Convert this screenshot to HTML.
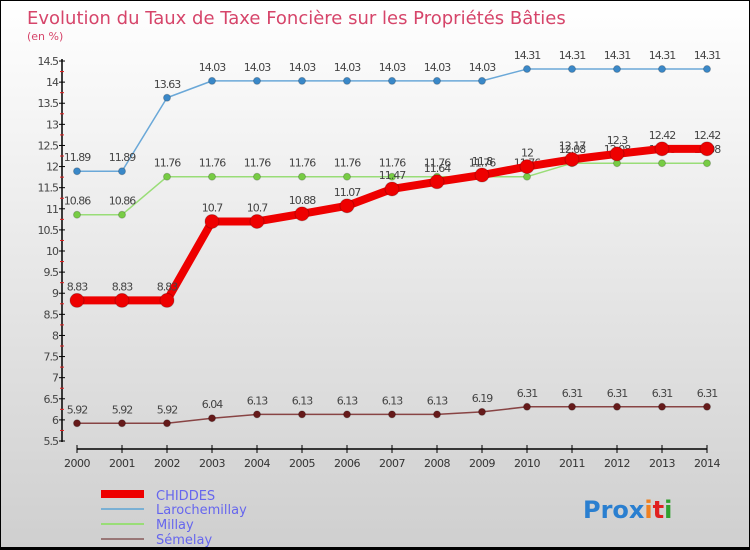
<!DOCTYPE html>
<html><head><meta charset="utf-8"><style>
body{margin:0}
#c{width:750px;height:550px;position:relative;background:linear-gradient(#ffffff,#cfcfcf);box-sizing:border-box;border:1px solid #000;border-bottom:3px solid #000;overflow:hidden;font-family:"DejaVu Sans","Liberation Sans",sans-serif}
svg text{font-family:"DejaVu Sans","Liberation Sans",sans-serif}
</style></head><body>
<div id="c">
<svg width="750" height="550" id="s">
<text x="26" y="23" font-size="18" fill="#d6456a">Evolution du Taux de Taxe Foncière sur les Propriétés Bâties</text>
<text x="26" y="39" font-size="11" fill="#d6456a">(en %)</text>
<g id="g"></g>
<g>
<rect x="100" y="489" width="43" height="8" fill="#ee0000"/>
<text x="155" y="499" font-size="13" fill="#6666ee">CHIDDES</text>
<rect x="100" y="507" width="43" height="2" fill="#7ab0d4"/>
<text x="155" y="513" font-size="13" fill="#6666ee">Larochemillay</text>
<rect x="100" y="522" width="43" height="2" fill="#99dd77"/>
<text x="155" y="528" font-size="13" fill="#6666ee">Millay</text>
<rect x="100" y="537" width="43" height="2" fill="#997777"/>
<text x="155" y="543" font-size="13" fill="#6666ee">Sémelay</text>
</g>
<text x="582" y="517" font-size="24" font-weight="bold"><tspan fill="#2a7fd0">Pro</tspan><tspan fill="#2a7fd0">x</tspan><tspan fill="#f08020">i</tspan><tspan fill="#e02020">t</tspan><tspan fill="#30a030">i</tspan></text>
</svg></div>
<script>
const years=[2000,2001,2002,2003,2004,2005,2006,2007,2008,2009,2010,2011,2012,2013,2014];
const chiddes=[8.83,8.83,8.83,10.7,10.7,10.88,11.07,11.47,11.64,11.8,12,12.17,12.3,12.42,12.42];
const larochemillay=[11.89,11.89,13.63,14.03,14.03,14.03,14.03,14.03,14.03,14.03,14.31,14.31,14.31,14.31,14.31];
const millay=[10.86,10.86,11.76,11.76,11.76,11.76,11.76,11.76,11.76,11.76,11.76,12.08,12.08,12.08,12.08];
const semelay=[5.92,5.92,5.92,6.04,6.13,6.13,6.13,6.13,6.13,6.19,6.31,6.31,6.31,6.31,6.31];
const yTicks=[5.5,6,6.5,7,7.5,8,8.5,9,9.5,10,10.5,11,11.5,12,12.5,13,13.5,14,14.5];
const NS="http://www.w3.org/2000/svg";
const g=document.getElementById('g');
const X=i=>76+i*45;
const Y=v=>440-(v-5.5)*42.22;
function el(t,a,p){const e=document.createElementNS(NS,t);for(const k in a)e.setAttribute(k,a[k]);(p||g).appendChild(e);return e;}
let e=el('line',{x1:61,y1:58,x2:61,y2:441,stroke:'#000','stroke-width':1.5});


e=el('line',{x1:76,y1:448,x2:706,y2:448,stroke:'#000','stroke-width':1.5});


yTicks.forEach((v,i)=>{
  el('line',{x1:58,y1:Y(v),x2:64,y2:Y(v),stroke:'#000'});
  if(i<yTicks.length-1) el('line',{x1:59,y1:Y(v+0.25),x2:63,y2:Y(v+0.25),stroke:'#e02020'});
  const t=el('text',{x:57,y:Y(v)+4,'font-size':11,fill:'#444','text-anchor':'end','letter-spacing':'-1'});
  t.textContent=String(v);
  
  
});
years.forEach((y,i)=>{
  el('line',{x1:X(i),y1:444,x2:X(i),y2:452,stroke:'#000'});
  const t=el('text',{x:X(i),y:466,'font-size':11,fill:'#333','text-anchor':'middle','letter-spacing':'-0.5'});
  t.textContent=y;
  
  
});
function series(data,color,dot,w,r,name){
  const p=el('polyline',{points:data.map((v,i)=>X(i)+','+Y(v)).join(' '),fill:'none',stroke:color,'stroke-width':w,'stroke-linejoin':'round'});
  
  
  data.forEach((v,i)=>{
    const c=el('circle',{cx:X(i),cy:Y(v),r:r,fill:dot,stroke:'#0003'});
    
    
    const t=el('text',{x:X(i),y:Y(v)-10,'font-size':11,fill:'#444','text-anchor':'middle','letter-spacing':'-1'});
    t.textContent=String(v);
    
    
  });
}
series(semelay,'#884444','#661a1a',1.5,3.5,'semelay');
series(millay,'#99dd77','#77cc44',1.5,3.5,'millay');
series(larochemillay,'#6aa8d8','#3a88c8',1.5,3.5,'larochemillay');
series(chiddes,'#ee0000','#ee0000',8,7,'chiddes');
</script>
</body></html>
